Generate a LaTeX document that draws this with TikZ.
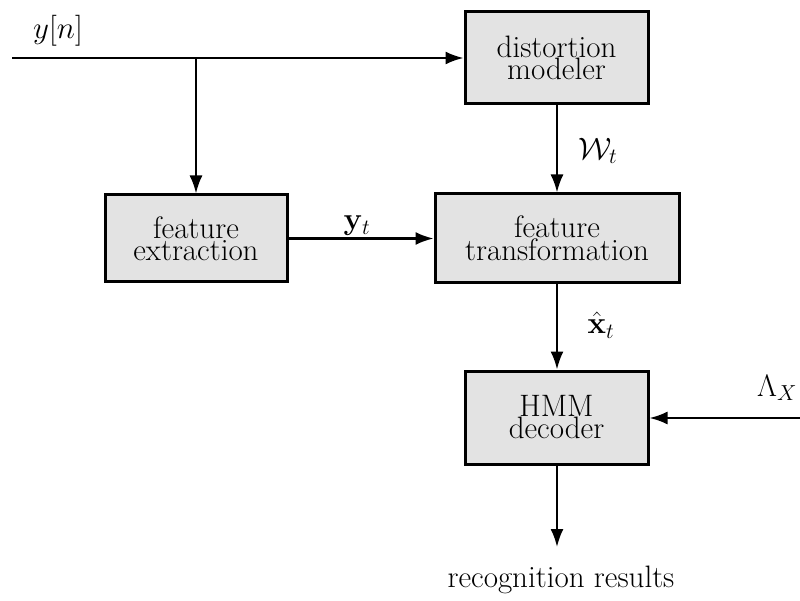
\RequirePackage{fix-cm}
\documentclass[tikz,border=0pt]{standalone}
\usetikzlibrary{arrows.meta}
\begin{document}
\begin{tikzpicture}[x=1pt,y=-1pt,
  block/.style={draw=black, line width=3pt, fill=black!11, align=center,
    font=\fontsize{31}{22}\selectfont, inner sep=0pt},
  flow/.style={line width=2.2pt, -{Latex[length=18pt,width=13pt]}},
  lbl/.style={font=\fontsize{31}{22}\selectfont, inner sep=0pt}]
\useasboundingbox (0,0) rectangle (800,601);

% processing blocks
\node[block, minimum width=183pt, minimum height=92pt] (dist) at (556.5,58) {distortion\\modeler};
\node[block, minimum width=182pt, minimum height=87pt] (fe) at (196,238.5) {feature\\extraction};
\node[block, minimum width=244pt, minimum height=89pt] (ft) at (557,238.5) {feature\\transformation};
\node[block, minimum width=183pt, minimum height=93pt] (hmm) at (556.5,417.5) {HMM\\decoder};

% signal entry, model input and output ends
\coordinate (in) at (12,58);
\coordinate (branch) at (196,58);
\coordinate (lam) at (800,418);
\coordinate (out) at (557,547);

% connectors
\draw[flow] (in) -- (dist.west);
\draw[flow] (branch) -- (fe.north);
\draw[flow] (fe.east) -- (ft.west);
\draw[flow] (dist.south -| ft.north) -- (ft.north);
\draw[flow] (ft.south) -- (hmm.north -| ft.south);
\draw[flow] (lam) -- (lam -| hmm.east);
\draw[flow] (hmm.south -| out) -- (out);

% labels
\node[lbl] (lyn) at (58,31) {$y[n]$};
\node[lbl] (lyt) at (357,226) {$\mathbf{y}_t$};
\node[lbl] (lwt) at (598,151) {$\mathcal{W}_t$};
\node[lbl] (lxt) at (601,325) {$\hat{\mathbf{x}}_t$};
\node[lbl] (llam) at (777,388) {$\Lambda_X$};
\node[lbl] (lres) at (561,580) {recognition results};
\end{tikzpicture}
\end{document}
